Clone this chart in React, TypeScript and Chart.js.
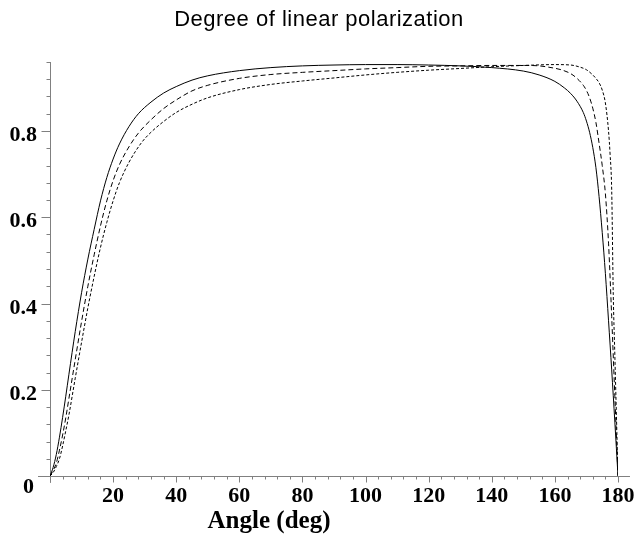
import { useEffect, useRef } from 'react';
import { Chart, registerables } from 'chart.js';

Chart.register(...registerables);

const TITLE = 'Degree of linear polarization';
const X_AXIS_TITLE = 'Angle (deg)';
const ORIGIN_LABEL = '0';

const xTickValues = [20, 40, 60, 80, 100, 120, 140, 160, 180];
const xTickLabels = ['20', '40', '60', '80', '100', '120', '140', '160', '180'];
const yTickValues = [0.2, 0.4, 0.6, 0.8];
const yTickLabels = ['0.2', '0.4', '0.6', '0.8'];

// Solid curve
const solidAngles = [0, 1, 2, 3, 4, 5, 6, 8, 10, 12, 14, 16, 18, 20, 22, 25, 28, 32, 36, 40, 45, 50, 60, 70, 80, 90, 100, 110, 120, 130, 140, 150, 155, 160, 163, 165, 167, 169, 170, 171, 172, 173, 174, 175, 176, 177, 178, 179, 180];
const solidValues = [0, 0.02, 0.05, 0.09, 0.136, 0.185, 0.236, 0.335, 0.425, 0.503, 0.572, 0.638, 0.692, 0.735, 0.77, 0.81, 0.84, 0.867, 0.888, 0.903, 0.918, 0.928, 0.94, 0.947, 0.951, 0.953, 0.954, 0.954, 0.953, 0.951, 0.947, 0.939, 0.93, 0.915, 0.9, 0.887, 0.869, 0.843, 0.823, 0.797, 0.762, 0.715, 0.648, 0.565, 0.47, 0.36, 0.246, 0.125, 0];

// Medium dashed curve
const dashAngles = [0, 1, 2, 3, 4, 5, 6, 8, 10, 12, 14, 16, 18, 20, 22, 25, 28, 32, 36, 40, 45, 50, 60, 70, 80, 90, 100, 110, 120, 130, 140, 150, 155, 158, 162, 165, 167, 169, 170, 171, 172, 173, 174, 175, 176, 177, 178, 179, 180];
const dashValues = [0, 0.013, 0.03, 0.06, 0.095, 0.135, 0.18, 0.27, 0.358, 0.44, 0.513, 0.58, 0.638, 0.685, 0.722, 0.763, 0.795, 0.826, 0.852, 0.872, 0.893, 0.906, 0.922, 0.931, 0.936, 0.94, 0.944, 0.947, 0.95, 0.951, 0.952, 0.952, 0.951, 0.948, 0.942, 0.933, 0.922, 0.906, 0.894, 0.877, 0.853, 0.82, 0.772, 0.72, 0.655, 0.54, 0.37, 0.185, 0];

// Short dashed curve
const dotAngles = [0, 1, 2, 3, 4, 5, 6, 8, 10, 12, 14, 16, 18, 20, 22, 25, 29, 32, 36, 40, 45, 50, 60, 70, 80, 90, 100, 110, 120, 130, 140, 150, 160, 165, 168, 170, 172, 173, 174, 175, 176, 177, 177.5, 178, 178.5, 179, 179.5, 180];
const dotValues = [0, 0.008, 0.022, 0.04, 0.07, 0.105, 0.142, 0.227, 0.31, 0.39, 0.463, 0.53, 0.588, 0.638, 0.68, 0.727, 0.773, 0.797, 0.822, 0.843, 0.862, 0.877, 0.896, 0.908, 0.916, 0.923, 0.93, 0.936, 0.941, 0.945, 0.949, 0.952, 0.954, 0.953, 0.948, 0.942, 0.93, 0.922, 0.912, 0.895, 0.865, 0.8, 0.745, 0.664, 0.42, 0.28, 0.14, 0];

const toPoints = (xs: number[], ys: number[]) => xs.map((x, i) => ({ x, y: ys[i] }));

const axesPlugin = {
  id: 'mapleAxes',
  beforeDatasetsDraw(chart: any) {
    const { ctx, scales } = chart;
    const xs = scales.x;
    const ys = scales.y;
    const x0 = Math.round(xs.getPixelForValue(0)) + 0.5;
    const y0 = Math.round(ys.getPixelForValue(0)) + 0.5;
    ctx.save();
    ctx.strokeStyle = '#808080';
    ctx.lineWidth = 1;
    ctx.beginPath();
    ctx.moveTo(xs.getPixelForValue(-3.8), y0);
    ctx.lineTo(xs.getPixelForValue(183.8), y0);
    ctx.moveTo(x0, ys.getPixelForValue(0.96));
    ctx.lineTo(x0, ys.getPixelForValue(-0.016));
    for (let v = 4; v <= 180; v += 4) {
      const px = Math.round(xs.getPixelForValue(v)) + 0.5;
      const len = v % 20 === 0 ? 6 : 3;
      ctx.moveTo(px, y0);
      ctx.lineTo(px, y0 + len);
    }
    for (let k = 1; k <= 24; k++) {
      const v = k * 0.04;
      const py = Math.round(ys.getPixelForValue(v)) + 0.5;
      const len = k % 5 === 0 ? 9 : 4;
      ctx.moveTo(x0, py);
      ctx.lineTo(x0 - len, py);
    }
    ctx.stroke();
    ctx.restore();
  },
  afterDraw(chart: any) {
    const { ctx, scales } = chart;
    const xs = scales.x;
    const ys = scales.y;
    ctx.save();
    ctx.fillStyle = '#000';
    ctx.font = '22px "Liberation Sans", Arial, sans-serif';
    ctx.textAlign = 'center';
    ctx.textBaseline = 'alphabetic';
    try { (ctx as any).letterSpacing = '0.5px'; } catch (e) {}
    ctx.fillText(TITLE, 319, 26);
    try { (ctx as any).letterSpacing = '0px'; } catch (e) {}

    ctx.font = 'bold 22px "Liberation Serif", "Times New Roman", serif';
    const y0 = ys.getPixelForValue(0);
    xTickValues.forEach((v, i) => {
      ctx.textAlign = 'center';
      ctx.fillText(xTickLabels[i], xs.getPixelForValue(v), y0 + 26);
    });
    yTickValues.forEach((v, i) => {
      ctx.textAlign = 'right';
      ctx.fillText(yTickLabels[i], 37, ys.getPixelForValue(v) + 10);
    });
    ctx.textAlign = 'right';
    ctx.fillText(ORIGIN_LABEL, 34, y0 + 17);

    ctx.font = 'bold 25px "Liberation Serif", "Times New Roman", serif';
    ctx.textAlign = 'center';
    ctx.fillText(X_AXIS_TITLE, 269, 528);
    ctx.restore();
  },
};

export default function App() {
  const canvasRef = useRef<HTMLCanvasElement | null>(null);

  useEffect(() => {
    document.body.style.margin = '0';
    const canvas = canvasRef.current;
    if (!canvas) return;
    const common = {
      borderColor: '#000',
      borderWidth: 1,
      pointRadius: 0,
      fill: false,
      cubicInterpolationMode: 'monotone' as const,
    };
    const chart = new Chart(canvas, {
      type: 'line',
      data: {
        datasets: [
          { ...common, label: 'solid', data: toPoints(solidAngles, solidValues) },
          { ...common, label: 'dashed', data: toPoints(dashAngles, dashValues), borderDash: [5, 3] },
          { ...common, label: 'short dashed', data: toPoints(dotAngles, dotValues), borderDash: [3, 2] },
        ],
      },
      options: {
        responsive: false,
        animation: false,
        layout: { padding: { left: 50, right: 16, top: 62, bottom: 61 } },
        plugins: {
          legend: { display: false },
          tooltip: { enabled: false },
          title: { display: false },
        },
        scales: {
          x: { type: 'linear', min: 0, max: 180, display: false },
          y: { type: 'linear', min: 0, max: 0.96, display: false },
        },
      },
      plugins: [axesPlugin],
    });
    return () => chart.destroy();
  }, []);

  return (
    <div style={{ width: 634, height: 537 }}>
      <canvas ref={canvasRef} width={634} height={537} style={{ display: 'block' }} />
    </div>
  );
}
